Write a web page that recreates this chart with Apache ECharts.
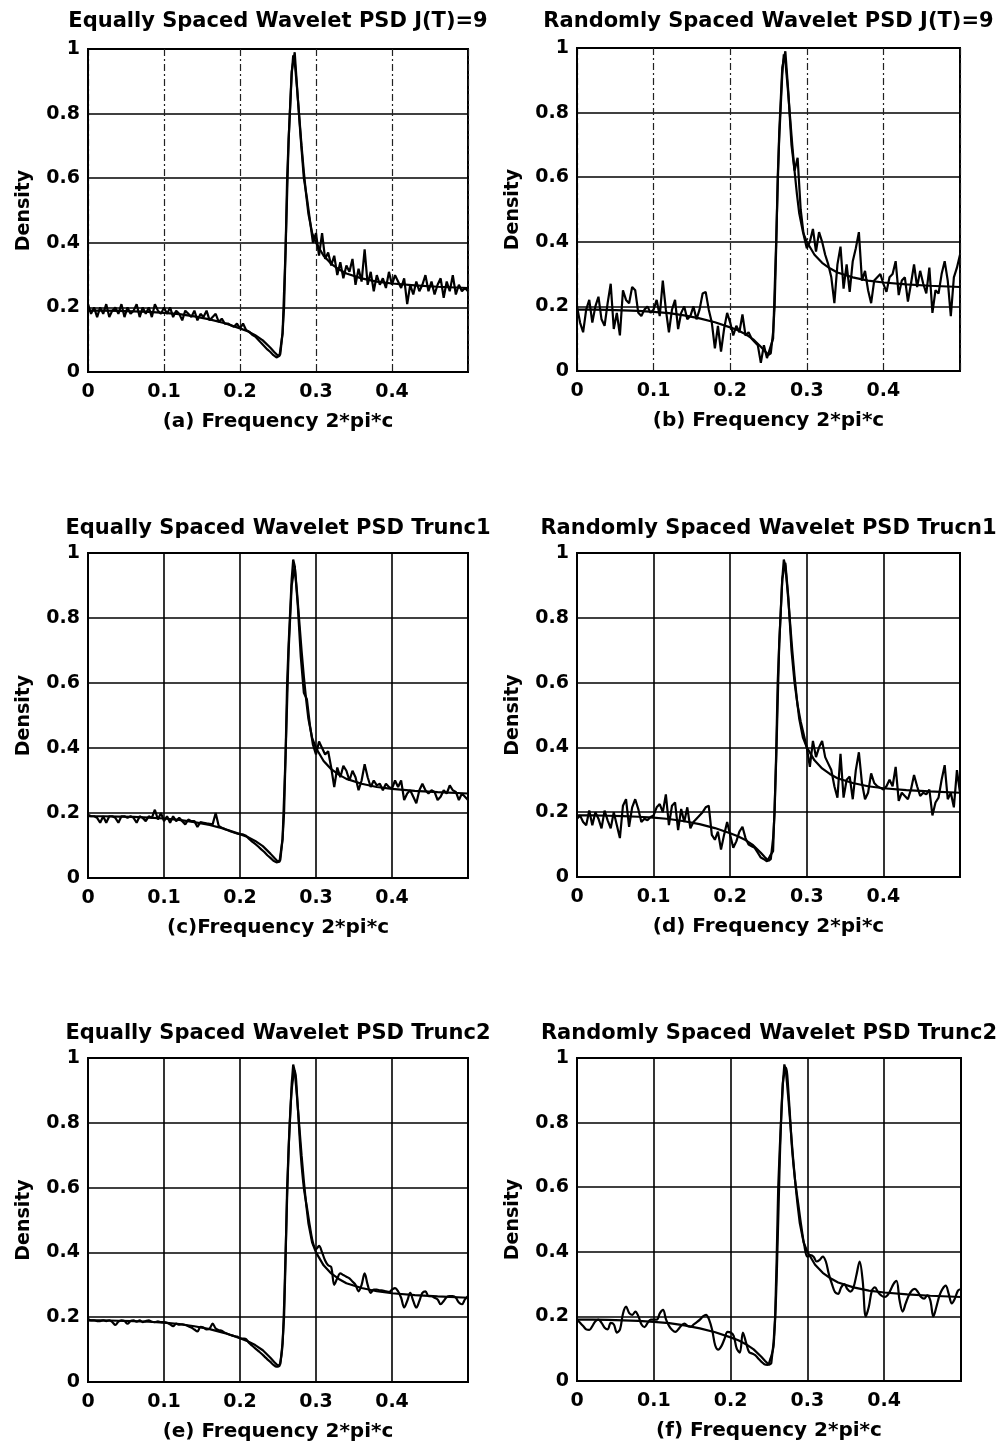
<!DOCTYPE html>
<html><head><meta charset="utf-8">
<script src="https://cdn.jsdelivr.net/npm/echarts/dist/echarts.min.js"></script>
<style>html,body{margin:0;padding:0;background:#fff}#c{width:1004px;height:1450px}</style>
</head><body><div id="c"></div>
<script>
// Frequency grid of the estimated spectra (step 0.004)
const FREQ = Array.from({length: 126}, (_, i) => Math.round(i * 4) / 1000);

// Theoretical PSD (smooth curve)
const THEORY_X = [0, 0.02, 0.04, 0.06, 0.08, 0.10, 0.12, 0.14, 0.16, 0.18, 0.20, 0.21, 0.22, 0.23, 0.24, 0.245, 0.25, 0.253, 0.256, 0.258, 0.260, 0.262, 0.264, 0.266, 0.268, 0.270, 0.272, 0.275, 0.278, 0.281, 0.284, 0.287, 0.290, 0.295, 0.300, 0.31, 0.32, 0.33, 0.34, 0.36, 0.38, 0.40, 0.43, 0.46, 0.50];
const THEORY_Y = [0.19, 0.19, 0.189, 0.188, 0.186, 0.183, 0.179, 0.172, 0.163, 0.151, 0.135, 0.126, 0.114, 0.098, 0.075, 0.062, 0.05, 0.055, 0.12, 0.2, 0.38, 0.6, 0.72, 0.82, 0.92, 0.98, 0.96, 0.88, 0.79, 0.70, 0.62, 0.55, 0.49, 0.43, 0.40, 0.36, 0.335, 0.318, 0.305, 0.29, 0.28, 0.274, 0.268, 0.264, 0.26];

// Estimated PSDs
const PSD_A = [0.21,0.18,0.20,0.17,0.20,0.18,0.21,0.17,0.19,0.20,
 0.18,0.21,0.17,0.20,0.18,0.19,0.21,0.17,0.20,0.18,
 0.20,0.17,0.21,0.19,0.18,0.20,0.18,0.20,0.17,0.19,
 0.18,0.16,0.19,0.18,0.17,0.19,0.16,0.18,0.17,0.19,
 0.16,0.17,0.18,0.155,0.165,0.15,0.15,0.145,0.14,0.15,
 0.135,0.15,0.13,0.125,0.115,0.11,0.10,0.09,0.08,0.07,
 0.062,0.052,0.045,0.05,0.12,0.38,0.72,0.93,0.99,0.85,
 0.72,0.60,0.54,0.47,0.40,0.43,0.36,0.43,0.35,0.37,
 0.33,0.36,0.30,0.34,0.29,0.33,0.31,0.35,0.27,0.32,
 0.28,0.38,0.27,0.31,0.25,0.30,0.27,0.29,0.26,0.31,
 0.27,0.30,0.28,0.26,0.29,0.21,0.27,0.24,0.28,0.25,
 0.27,0.30,0.25,0.28,0.24,0.27,0.29,0.23,0.28,0.25,
 0.30,0.24,0.27,0.25,0.26,0.25];
const PSD_B = [0.20,0.15,0.12,0.19,0.22,0.15,0.20,0.23,0.16,0.14,
 0.21,0.27,0.13,0.18,0.11,0.25,0.22,0.21,0.26,0.25,
 0.18,0.17,0.19,0.20,0.18,0.19,0.22,0.17,0.28,0.19,
 0.12,0.19,0.22,0.13,0.18,0.20,0.16,0.17,0.20,0.16,
 0.19,0.24,0.245,0.19,0.15,0.07,0.14,0.06,0.13,0.18,
 0.15,0.11,0.14,0.12,0.175,0.11,0.12,0.10,0.09,0.08,
 0.025,0.08,0.04,0.07,0.10,0.40,0.74,0.94,0.99,0.86,
 0.70,0.62,0.66,0.50,0.42,0.38,0.40,0.44,0.37,0.43,
 0.40,0.36,0.33,0.29,0.21,0.33,0.385,0.255,0.33,0.245,
 0.34,0.38,0.43,0.28,0.31,0.25,0.21,0.28,0.29,0.30,
 0.27,0.245,0.29,0.30,0.34,0.235,0.28,0.29,0.215,0.27,
 0.33,0.26,0.31,0.27,0.24,0.32,0.18,0.25,0.24,0.30,
 0.34,0.28,0.17,0.29,0.32,0.36];
const PSD_C = [0.195,0.19,0.19,0.185,0.17,0.19,0.17,0.19,0.19,0.185,
 0.17,0.19,0.19,0.185,0.19,0.185,0.17,0.19,0.185,0.175,
 0.19,0.185,0.21,0.18,0.20,0.175,0.19,0.17,0.19,0.175,
 0.185,0.175,0.165,0.18,0.175,0.175,0.157,0.172,0.17,0.168,
 0.167,0.165,0.20,0.16,0.155,0.15,0.147,0.143,0.14,0.137,
 0.135,0.134,0.13,0.12,0.112,0.105,0.097,0.088,0.08,0.07,
 0.062,0.053,0.048,0.05,0.12,0.38,0.70,0.90,0.96,0.84,
 0.68,0.57,0.55,0.47,0.41,0.38,0.42,0.40,0.38,0.39,
 0.34,0.28,0.34,0.31,0.345,0.33,0.30,0.33,0.31,0.27,
 0.30,0.35,0.31,0.28,0.30,0.285,0.29,0.27,0.29,0.28,
 0.275,0.30,0.28,0.30,0.24,0.26,0.27,0.25,0.23,0.27,
 0.29,0.27,0.26,0.27,0.265,0.24,0.25,0.27,0.26,0.285,
 0.27,0.265,0.24,0.26,0.25,0.24];
const PSD_D = [0.18,0.19,0.17,0.16,0.205,0.16,0.20,0.18,0.15,0.205,
 0.175,0.15,0.20,0.16,0.12,0.22,0.24,0.155,0.215,0.24,
 0.21,0.17,0.18,0.175,0.185,0.19,0.215,0.225,0.20,0.255,
 0.16,0.22,0.23,0.145,0.21,0.17,0.215,0.15,0.17,0.18,
 0.19,0.20,0.215,0.22,0.13,0.115,0.14,0.085,0.13,0.17,
 0.13,0.09,0.11,0.14,0.155,0.12,0.10,0.095,0.09,0.075,
 0.06,0.055,0.048,0.065,0.08,0.36,0.72,0.92,0.97,0.86,
 0.70,0.60,0.53,0.48,0.44,0.40,0.34,0.42,0.37,0.40,
 0.42,0.37,0.35,0.33,0.28,0.245,0.38,0.245,0.30,0.31,
 0.24,0.33,0.385,0.29,0.24,0.26,0.32,0.29,0.28,0.275,
 0.27,0.28,0.30,0.28,0.34,0.235,0.26,0.25,0.24,0.27,
 0.315,0.28,0.25,0.26,0.255,0.27,0.19,0.23,0.245,0.30,
 0.345,0.24,0.26,0.215,0.33,0.26];
const PSD_E = [0.195,0.19,0.19,0.188,0.188,0.19,0.188,0.19,0.185,0.176,
 0.186,0.19,0.188,0.18,0.188,0.19,0.186,0.19,0.185,0.188,
 0.19,0.186,0.185,0.187,0.185,0.185,0.183,0.178,0.172,0.18,
 0.177,0.178,0.176,0.172,0.168,0.162,0.156,0.17,0.168,0.162,
 0.165,0.18,0.165,0.16,0.158,0.152,0.148,0.145,0.142,0.14,
 0.135,0.134,0.132,0.12,0.112,0.104,0.096,0.088,0.079,0.07,
 0.062,0.053,0.047,0.05,0.12,0.40,0.72,0.90,0.96,0.85,
 0.70,0.60,0.54,0.48,0.43,0.41,0.42,0.40,0.375,0.36,
 0.355,0.30,0.32,0.335,0.33,0.325,0.32,0.31,0.30,0.28,
 0.30,0.335,0.30,0.275,0.285,0.285,0.283,0.282,0.28,0.278,
 0.285,0.29,0.28,0.26,0.23,0.25,0.275,0.25,0.23,0.25,
 0.275,0.28,0.265,0.265,0.26,0.255,0.24,0.25,0.262,0.265,
 0.265,0.26,0.245,0.24,0.255,0.265];
const PSD_F = [0.19,0.18,0.17,0.16,0.158,0.17,0.185,0.19,0.18,0.165,
 0.16,0.18,0.175,0.15,0.16,0.21,0.23,0.21,0.205,0.215,
 0.20,0.175,0.167,0.18,0.19,0.19,0.19,0.21,0.22,0.19,
 0.17,0.158,0.152,0.16,0.172,0.178,0.17,0.168,0.175,0.182,
 0.19,0.20,0.205,0.19,0.158,0.11,0.097,0.108,0.13,0.152,
 0.15,0.14,0.10,0.088,0.15,0.12,0.09,0.085,0.08,0.07,
 0.06,0.052,0.05,0.07,0.11,0.32,0.68,0.92,0.97,0.87,
 0.72,0.62,0.55,0.48,0.42,0.385,0.39,0.385,0.37,0.375,
 0.385,0.37,0.33,0.30,0.275,0.27,0.29,0.30,0.285,0.277,
 0.29,0.33,0.37,0.31,0.20,0.23,0.28,0.29,0.275,0.265,
 0.26,0.265,0.28,0.30,0.31,0.25,0.215,0.24,0.265,0.28,
 0.285,0.275,0.26,0.255,0.265,0.25,0.20,0.23,0.265,0.285,
 0.295,0.27,0.24,0.255,0.28,0.285];

const TITLES = ['Equally Spaced Wavelet PSD J(T)=9', 'Randomly Spaced Wavelet PSD J(T)=9',
  'Equally Spaced Wavelet PSD Trunc1', 'Randomly Spaced Wavelet PSD Trucn1',
  'Equally Spaced Wavelet PSD Trunc2', 'Randomly Spaced Wavelet PSD Trunc2'];
const XNAMES = ['(a) Frequency 2*pi*c', '(b) Frequency 2*pi*c', '(c)Frequency 2*pi*c',
  '(d) Frequency 2*pi*c', '(e) Frequency 2*pi*c', '(f) Frequency 2*pi*c'];
const YNAME = 'Density';
const SERIES = [PSD_A, PSD_B, PSD_C, PSD_D, PSD_E, PSD_F];

const FONT = '"DejaVu Sans", sans-serif';
const LAYOUT = [
  {left: 88, top: 49, width: 380, height: 323, ty: 22, dashed: true, smooth: false},
  {left: 577, top: 48, width: 383, height: 323, ty: 22, dashed: true, smooth: false},
  {left: 88, top: 553, width: 380, height: 325, ty: 529, dashed: false, smooth: false},
  {left: 577, top: 553, width: 383, height: 324, ty: 529, dashed: false, smooth: false},
  {left: 88, top: 1058, width: 380, height: 324, ty: 1034, dashed: false, smooth: 0.35},
  {left: 577, top: 1058, width: 384, height: 323, ty: 1034, dashed: false, smooth: 0.35}
];

const theory = THEORY_X.map((x, i) => [x, THEORY_Y[i]]);
const grid = [], xAxis = [], yAxis = [], series = [], graphic = [];
LAYOUT.forEach((L, k) => {
  grid.push({left: L.left, top: L.top, width: L.width, height: L.height,
    show: true, borderColor: '#000', borderWidth: 2, backgroundColor: '#fff'});
  xAxis.push({type: 'value', gridIndex: k, min: 0, max: 0.5, interval: 0.1,
    name: XNAMES[k], nameLocation: 'middle', nameGap: 40,
    nameTextStyle: {color: '#000', fontFamily: FONT, fontWeight: 'bold', fontSize: 20},
    axisLine: {show: true, onZero: false, lineStyle: {color: '#000', width: 2}},
    axisTick: {show: false},
    axisLabel: {showMaxLabel: false, margin: 11, color: '#000', fontFamily: FONT, fontWeight: 'bold', fontSize: 19},
    splitLine: {show: true, lineStyle: {color: L.dashed ? '#222' : '#000', width: L.dashed ? 1.2 : 1.6, type: L.dashed ? [7, 3, 2, 3] : 'solid'}}
  });
  yAxis.push({type: 'value', gridIndex: k, min: 0, max: 1, interval: 0.2,
    name: YNAME, nameLocation: 'middle', nameGap: 54, nameRotate: 90,
    nameTextStyle: {color: '#000', fontFamily: FONT, fontWeight: 'bold', fontSize: 19},
    axisLine: {show: true, onZero: false, lineStyle: {color: '#000', width: 2}},
    axisTick: {show: false},
    axisLabel: {margin: 8, color: '#000', fontFamily: FONT, fontWeight: 'bold', fontSize: 19},
    splitLine: {show: true, lineStyle: {color: '#000', width: 1.6}}
  });
  series.push({type: 'line', xAxisIndex: k, yAxisIndex: k, showSymbol: false, smooth: L.smooth,
    data: FREQ.map((x, i) => [x, SERIES[k][i]]),
    lineStyle: {color: '#000', width: 2.2}, z: 3});
  series.push({type: 'line', xAxisIndex: k, yAxisIndex: k, showSymbol: false, smooth: false,
    data: theory, lineStyle: {color: '#000', width: 2.2}, z: 4});
  graphic.push({type: 'text', x: L.left + L.width / 2, y: L.ty,
    style: {text: TITLES[k], fill: '#000', fontFamily: FONT, fontWeight: 'bold', fontSize: 21,
      align: 'center', verticalAlign: 'middle'}});
});

const chart = echarts.init(document.getElementById('c'), null, {renderer: 'canvas'});
chart.setOption({backgroundColor: '#fff', animation: false, grid, xAxis, yAxis, series, graphic});
</script></body></html>
